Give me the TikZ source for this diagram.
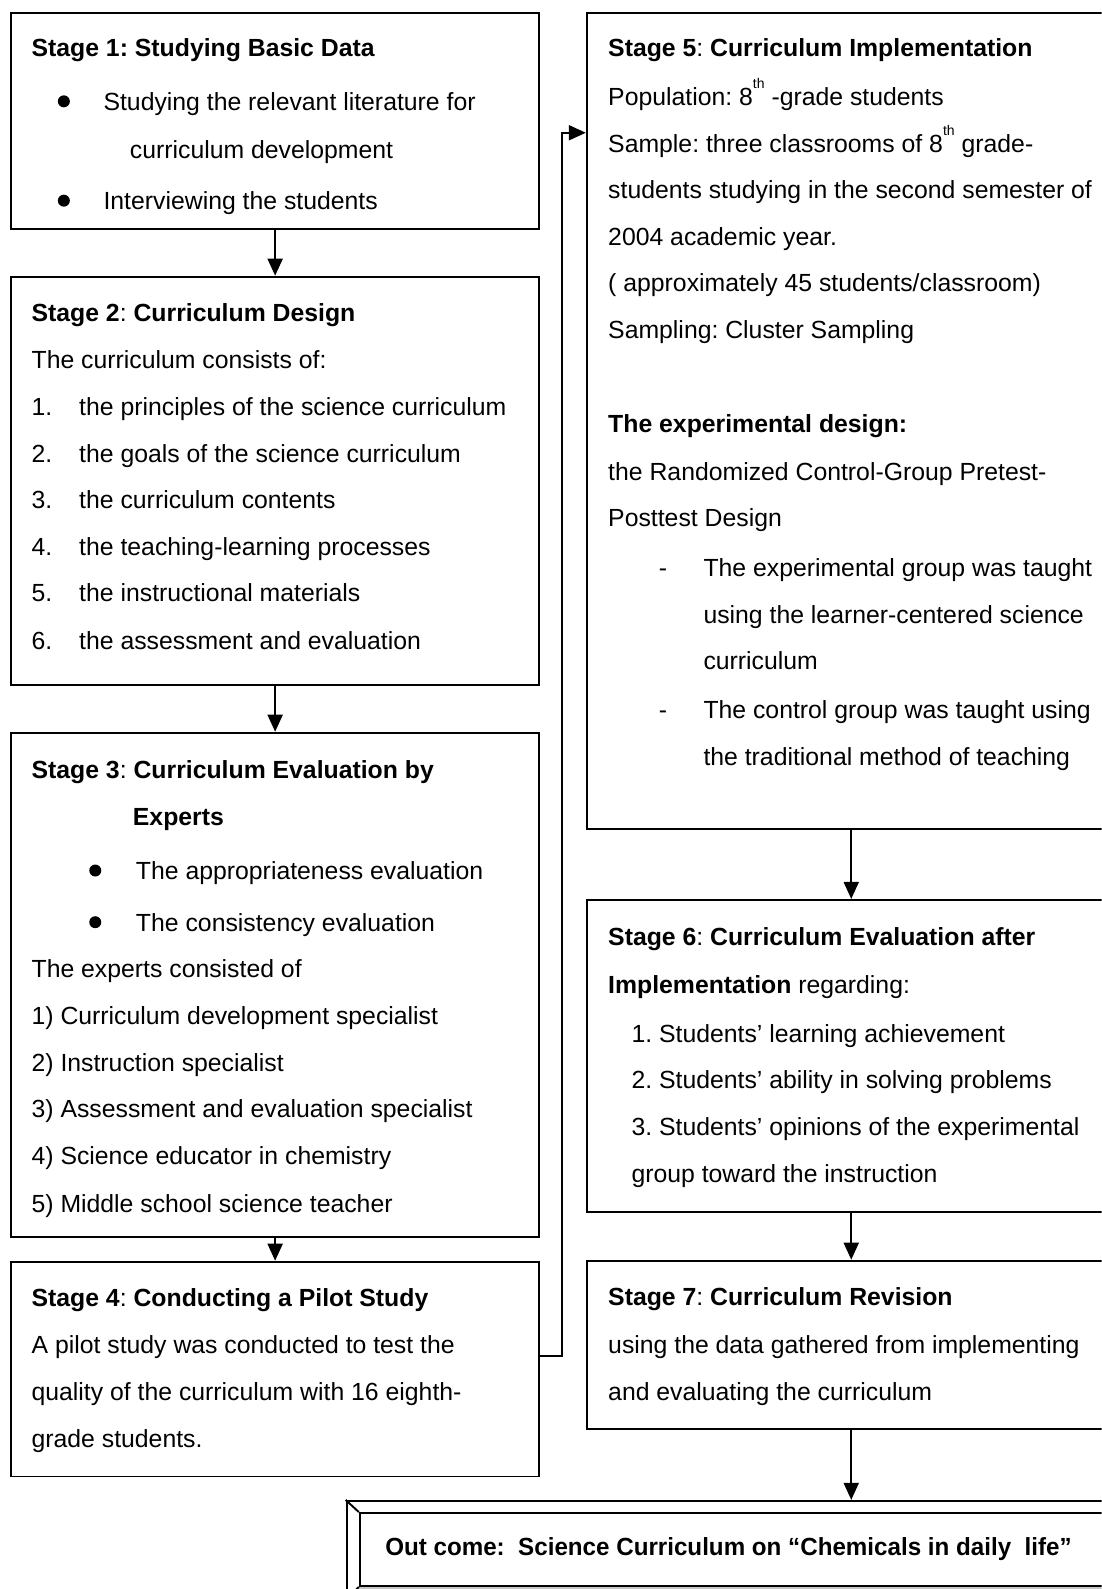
\documentclass[tikz,border=0pt]{standalone}
\usepackage{fontspec}
\setmainfont{Liberation Sans}
\usetikzlibrary{arrows.meta,fit}
\newcommand\Ln[4]{\node[txt] (#1) at (#2,#3) {#4};}
\newcommand\Sup[1]{\raisebox{17pt}{\fontsize{14}{14}\selectfont #1}}
\frenchspacing
\begin{document}
\begin{tikzpicture}[x=1.0138pt,y=-1.0138pt,
 box/.style={draw,line width=1.9pt,inner sep=0pt},
 txt/.style={anchor=base west,inner sep=0pt,font=\fontsize{24.8}{30}\selectfont\frenchspacing},
 arr/.style={line width=1.9pt,-{Triangle[width=15pt,length=17pt]}},
 bul/.style={circle,fill,inner sep=0pt,minimum size=12pt}]
\clip (0,0) rectangle (1087,1568);
\fill[white] (0,0) rectangle (1087,1568);
% boxes
\node[box,fit={(11,13)(532,226)}] (s1) {};
\node[box,fit={(11,273)(532,676)}] (s2) {};
\node[box,fit={(11,723)(532,1221)}] (s3) {};
\node[box,fit={(11,1245)(532,1457)}] (s4) {};
\node[box,fit={(579,13)(1101,818)}] (s5) {};
\node[box,fit={(579,888)(1101,1196)}] (s6) {};
\node[box,fit={(579,1244)(1101,1410)}] (s7) {};
% outcome bevel box
\fill[gray!45] (342,1578) -- (355,1565) -- (1325,1565) -- (1338,1578) -- cycle;
\node[box,fit={(342,1481)(1338,1578)}] (out) {};
\node[box,fit={(355,1493)(1325,1565)}] (outin) {};
\draw[line width=1.9pt] (out.north west) -- (outin.north west);
\draw[line width=1.9pt] (out.south west) -- (outin.south west);
% connectors
\draw[arr] (s1.south) -- (s2.north);
\draw[arr] (s2.south) -- (s3.north);
\draw[arr] (s3.south) -- (s4.north);
\coordinate (j1) at (555,1338);
\coordinate (j2) at (555,131);
\draw[arr] (s4.east |- j1) -- (j1) -- (j2) -- (s5.west |- j2);
\draw[arr] (s5.south) -- (s6.north);
\draw[arr] (s6.south) -- (s7.north);
\draw[arr] (s7.south) -- (out.north -| s7.south);
% Stage 1
\Ln{a1}{31}{56}{\textbf{Stage 1: Studying Basic Data}}
\node[bul] (b1) at (63,100) {};
\Ln{a2}{102}{109}{Studying the relevant literature for}
\Ln{a3}{128}{156}{curriculum development}
\node[bul] (b2) at (63,198) {};
\Ln{a4}{102}{207}{Interviewing the students}
% Stage 2
\Ln{c1}{31}{317}{\textbf{Stage 2}: \textbf{Curriculum Design}}
\Ln{c2}{31}{364}{The curriculum consists of:}
\Ln{c3n}{31}{410}{1.}\Ln{c3}{78}{410}{the principles of the science curriculum}
\Ln{c4n}{31}{456}{2.}\Ln{c4}{78}{456}{the goals of the science curriculum}
\Ln{c5n}{31}{502}{3.}\Ln{c5}{78}{502}{the curriculum contents}
\Ln{c6n}{31}{548}{4.}\Ln{c6}{78}{548}{the teaching-learning processes}
\Ln{c7n}{31}{594}{5.}\Ln{c7}{78}{594}{the instructional materials}
\Ln{c8n}{31}{641}{6.}\Ln{c8}{78}{641}{the assessment and evaluation}
% Stage 3
\Ln{d1}{31}{768}{\textbf{Stage 3}: \textbf{Curriculum Evaluation by}}
\Ln{d2}{131}{815}{\textbf{Experts}}
\node[bul] (b3) at (94,859) {};
\Ln{d3}{134}{868}{The appropriateness evaluation}
\node[bul] (b4) at (94,910) {};
\Ln{d4}{134}{919}{The consistency evaluation}
\Ln{d5}{31}{965}{The experts consisted of}
\Ln{d6}{31}{1011}{1) Curriculum development specialist}
\Ln{d7}{31}{1057}{2) Instruction specialist}
\Ln{d8}{31}{1103}{3) Assessment and evaluation specialist}
\Ln{d9}{31}{1149}{4) Science educator in chemistry}
\Ln{d10}{31}{1196}{5) Middle school science teacher}
% Stage 4
\Ln{e1}{31}{1289}{\textbf{Stage 4}: \textbf{Conducting a Pilot Study}}
\Ln{e2}{31}{1336}{A pilot study was conducted to test the}
\Ln{e3}{31}{1382}{quality of the curriculum with 16 eighth-}
\Ln{e4}{31}{1428}{grade students.}
% Stage 5
\Ln{f1}{600}{56}{\textbf{Stage 5}: \textbf{Curriculum Implementation}}
\Ln{f2}{600}{104}{Population: 8\Sup{th} -grade students}
\Ln{f3}{600}{150}{Sample: three classrooms of 8\Sup{th} grade-}
\Ln{f4}{600}{196}{students studying in the second semester of}
\Ln{f5}{600}{242}{2004 academic year.}
\Ln{f6}{600}{288}{( approximately 45 students/classroom)}
\Ln{f7}{600}{334}{Sampling: Cluster Sampling}
\Ln{f8}{600}{427}{\textbf{The experimental design:}}
\Ln{f9}{600}{474}{the Randomized Control-Group Pretest-}
\Ln{f10}{600}{520}{Posttest Design}
\Ln{f11d}{650}{569}{-}\Ln{f11}{694}{569}{The experimental group was taught}
\Ln{f12}{694}{615}{using the learner-centered science}
\Ln{f13}{694}{661}{curriculum}
\Ln{f14d}{650}{709}{-}\Ln{f14}{694}{709}{The control group was taught using}
\Ln{f15}{694}{755}{the traditional method of teaching}
% Stage 6
\Ln{g1}{600}{933}{\textbf{Stage 6}: \textbf{Curriculum Evaluation after}}
\Ln{g2}{600}{980}{\textbf{Implementation} regarding:}
\Ln{g3}{623}{1029}{1. Students’ learning achievement}
\Ln{g4}{623}{1074}{2. Students’ ability in solving problems}
\Ln{g5}{623}{1120}{3. Students’ opinions of the experimental}
\Ln{g6}{623}{1167}{group toward the instruction}
% Stage 7
\Ln{h1}{600}{1288}{\textbf{Stage 7}: \textbf{Curriculum Revision}}
\Ln{h2}{600}{1336}{using the data gathered from implementing}
\Ln{h3}{600}{1382}{and evaluating the curriculum}
% Outcome
\Ln{o1}{380}{1535}{\scalebox{0.975}[1]{\textbf{Out come:~ Science Curriculum on “Chemicals in daily~ life”}}}
\end{tikzpicture}
\end{document}
